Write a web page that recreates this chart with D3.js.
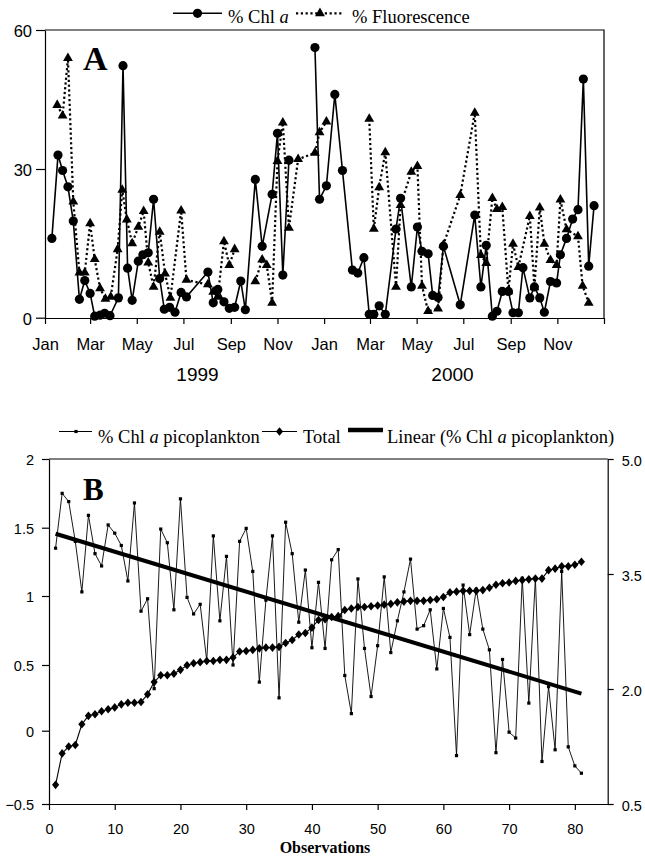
<!DOCTYPE html>
<html><head><meta charset="utf-8">
<script src="https://cdn.jsdelivr.net/npm/d3@7"></script>
<style>body{margin:0;background:#fff}</style>
</head><body>
<svg id="c" width="645" height="858"></svg>
<script>
// ---------- Panel A data ----------
const chlDates = ["1999-01-10","1999-01-18","1999-01-24","1999-01-31","1999-02-07","1999-02-15","1999-02-22","1999-03-01","1999-03-07","1999-03-14","1999-03-20","1999-03-27","1999-04-07","1999-04-13","1999-04-19","1999-04-25","1999-05-03","1999-05-09","1999-05-16","1999-05-23","1999-05-31","1999-06-06","1999-06-13","1999-06-20","1999-06-28","1999-07-05","1999-08-02","1999-08-09","1999-08-15","1999-08-23","1999-08-30","1999-09-06","1999-09-14","1999-09-20","1999-10-03","1999-10-12","1999-10-25","1999-11-01","1999-11-08","1999-11-16","1999-12-01","1999-12-20","1999-12-26","2000-01-04","2000-01-15","2000-01-25","2000-02-07","2000-02-14","2000-02-22","2000-02-29","2000-03-06","2000-03-13","2000-03-21","2000-04-04","2000-04-10","2000-04-24","2000-05-02","2000-05-08","2000-05-16","2000-05-22","2000-05-29","2000-06-05","2000-06-27","2000-07-16","2000-07-24","2000-07-31","2000-08-08","2000-08-14","2000-08-21","2000-08-29","2000-09-04","2000-09-11","2000-09-17","2000-09-26","2000-10-02","2000-10-09","2000-10-15","2000-10-23","2000-10-31","2000-11-05","2000-11-13","2000-11-21","2000-11-28","2000-12-05","2000-12-12","2000-12-19"];
const chlValues = [16.0,33.0,29.7,26.4,19.5,3.7,7.5,4.9,0.3,0.5,0.9,0.4,4.0,52.3,10.0,3.5,11.4,12.7,13.1,23.9,7.9,1.7,2.1,1.1,5.1,4.2,9.2,3.0,5.7,3.2,1.9,2.1,7.4,1.6,27.9,14.4,24.9,37.7,8.6,31.9,null,56.2,23.9,26.6,46.1,29.7,9.6,9.0,12.1,0.7,0.7,2.4,0.7,17.9,24.1,6.2,18.3,13.4,12.9,4.5,4.1,14.4,2.6,20.7,6.2,14.6,0.3,1.3,5.3,5.3,1.0,1.0,10.1,4.0,6.2,4.0,1.1,7.3,7.0,12.7,16.0,19.9,21.8,49.4,10.4,22.6];
const fluDates = ["1999-01-17","1999-01-24","1999-01-31","1999-02-07","1999-02-15","1999-02-22","1999-03-01","1999-03-07","1999-03-14","1999-03-21","1999-03-28","1999-04-06","1999-04-12","1999-04-18","1999-04-25","1999-05-03","1999-05-10","1999-05-16","1999-05-23","1999-05-31","1999-06-07","1999-06-14","1999-06-28","1999-07-05","1999-08-02","1999-08-09","1999-08-15","1999-08-23","1999-08-30","1999-09-06","1999-09-20","1999-10-03","1999-10-12","1999-10-18","1999-10-25","1999-11-01","1999-11-08","1999-11-16","1999-11-28","1999-12-20","1999-12-26","2000-01-04","2000-02-01","2000-02-29","2000-03-06","2000-03-13","2000-03-21","2000-04-04","2000-04-10","2000-04-24","2000-05-02","2000-05-08","2000-05-16","2000-05-29","2000-06-05","2000-06-27","2000-07-16","2000-07-24","2000-07-31","2000-08-08","2000-08-14","2000-08-21","2000-08-29","2000-09-04","2000-09-11","2000-09-26","2000-10-02","2000-10-09","2000-10-15","2000-10-23","2000-10-31","2000-11-05","2000-11-13","2000-11-28","2000-12-04","2000-12-12"];
const fluValues = [43.8,41.5,53.9,23.4,9.1,9.1,19.0,11.8,5.9,3.8,4.2,13.8,25.8,19.8,15.0,18.3,21.5,11.1,6.2,17.3,8.9,4.0,21.6,7.6,6.7,5.2,4.2,15.4,10.6,13.8,null,7.3,11.7,10.6,3.0,31.7,40.0,18.1,32.1,33.5,37.9,40.2,null,40.8,17.9,26.3,33.6,6.2,22.7,29.4,30.6,6.4,1.3,1.8,14.7,24.7,42.1,12.6,11.0,24.1,21.9,22.3,5.3,14.9,10.2,20.5,6.1,22.2,14.9,11.6,10.6,23.8,17.8,16.4,6.4,3.0];
const yTicksA = [0, 30, 60];
const yearLabels = ["1999", "2000"];
const legendA = ["% Chl ", "a", "% Fluorescence"];

// ---------- Panel B data ----------
const picoValues = [1.35,1.75,1.69,1.40,1.03,1.59,1.31,1.22,1.52,1.46,1.37,1.11,1.68,0.89,0.98,0.32,1.49,1.39,0.90,1.71,0.99,0.87,0.94,0.53,1.44,0.82,1.29,0.50,1.40,1.495,1.18,0.37,0.97,1.44,0.25,1.54,1.31,0.81,1.19,0.625,1.10,0.62,1.265,1.34,0.42,0.13,1.125,0.62,0.26,0.64,1.14,0.59,0.82,1.03,1.27,0.76,0.785,0.90,0.47,0.91,0.70,-0.17,1.08,0.72,1.05,0.76,0.61,-0.15,0.54,-0.01,-0.05,1.13,0.21,1.13,-0.21,0.335,-0.13,1.18,-0.11,-0.24,-0.29];
const totalValues = [0.75,1.16,1.25,1.27,1.54,1.65,1.67,1.71,1.735,1.76,1.80,1.82,1.82,1.83,1.93,2.09,2.18,2.18,2.20,2.25,2.31,2.335,2.35,2.365,2.365,2.38,2.38,2.41,2.49,2.495,2.51,2.53,2.54,2.54,2.55,2.60,2.64,2.71,2.73,2.80,2.90,2.91,2.94,2.95,3.03,3.05,3.07,3.07,3.08,3.09,3.10,3.11,3.13,3.14,3.15,3.15,3.15,3.16,3.17,3.20,3.26,3.27,3.28,3.28,3.28,3.29,3.32,3.36,3.38,3.39,3.41,3.42,3.43,3.44,3.44,3.55,3.57,3.60,3.60,3.62,3.66];
const observations = picoValues.map((d, i) => i + 1);
const xTicksB = [0,10,20,30,40,50,60,70,80];
const yTicksBLeft = [-0.5, 0, 0.5, 1, 1.5, 2];
const yTicksBRight = [0.5, 2.0, 3.5, 5.0];
const legendB = ["% Chl ", "a", " picoplankton", "Total", "Linear (% Chl ", " picoplankton)"];

const svg = d3.select("#c");
const parse = d3.timeParse("%Y-%m-%d");
const SANS = "'Liberation Sans', Arial, sans-serif";
const SERIF = "'Liberation Serif', 'Times New Roman', serif";

// ================= PANEL A =================
const xA = d3.scaleTime().domain([new Date(1999,0,1), new Date(2001,0,1)]).range([45, 604]);
const yA = d3.scaleLinear().domain([0, 30, 60]).range([317.7, 169, 30]);

const chl = chlDates.map((d, i) => ({date: parse(d), v: chlValues[i]}));
const flu = fluDates.map((d, i) => ({date: parse(d), v: fluValues[i]}));

svg.append("path").attr("d", `M45,30H604V318`).attr("fill","none").attr("stroke","#000").attr("stroke-width",1.2);

const gxA = svg.append("g").attr("transform","translate(0,318)")
  .call(d3.axisBottom(xA).ticks(d3.timeMonth.every(2)).tickSize(6).tickSizeOuter(0).tickPadding(14)
    .tickFormat(d => d.getFullYear() === 2001 ? "" : d3.timeFormat("%b")(d)));
const gyA = svg.append("g").attr("transform","translate(45,0)")
  .call(d3.axisLeft(yA).tickValues(yTicksA).tickSize(9).tickSizeOuter(0).tickPadding(4));
[gxA, gyA].forEach(g => {
  g.select(".domain").attr("stroke","#000").attr("stroke-width",1.2);
  g.selectAll(".tick line").attr("stroke","#000").attr("stroke-width",1.2);
  g.selectAll("text").attr("font-family", SANS).attr("font-size","16.5px").attr("fill","#000");
});
gyA.selectAll("text").attr("dy","0.42em");

svg.selectAll(".year").data(yearLabels).enter().append("text")
  .attr("x", (d,i) => [197.5, 452.5][i]).attr("y", 381).attr("text-anchor","middle")
  .attr("font-family", SANS).attr("font-size","19px").text(d => d);

const lineA = d3.line().defined(d => d.v !== null).x(d => xA(d.date)).y(d => yA(d.v));
svg.append("path").datum(flu).attr("d", lineA).attr("fill","none").attr("stroke","#000")
  .attr("stroke-width",2.2).attr("stroke-dasharray","2.2,2.6");
svg.append("path").datum(chl).attr("d", lineA).attr("fill","none").attr("stroke","#000").attr("stroke-width",1.6);

const tri = d3.symbol().type(d3.symbolTriangle).size(42);
svg.selectAll(".tri").data(flu.filter(d => d.v !== null)).enter().append("path")
  .attr("d", tri).attr("transform", d => `translate(${xA(d.date)},${yA(d.v)})`).attr("fill","#000");
svg.selectAll(".cir").data(chl.filter(d => d.v !== null)).enter().append("circle")
  .attr("cx", d => xA(d.date)).attr("cy", d => yA(d.v)).attr("r",4.6).attr("fill","#000");

svg.append("text").attr("x",83).attr("y",70).attr("font-family",SERIF).attr("font-weight","bold")
  .attr("font-size","34px").text("A");

// legend A
svg.append("line").attr("x1",173).attr("x2",222).attr("y1",13.3).attr("y2",13.3).attr("stroke","#000").attr("stroke-width",1.4);
svg.append("circle").attr("cx",197.5).attr("cy",13.3).attr("r",4.6);
const tA1 = svg.append("text").attr("x",228).attr("y",23).attr("font-family",SERIF).attr("font-size","18.5px");
tA1.append("tspan").text(legendA[0]);
tA1.append("tspan").attr("font-style","italic").text(legendA[1]);
svg.append("line").attr("x1",296).attr("x2",344).attr("y1",13.3).attr("y2",13.3).attr("stroke","#000")
  .attr("stroke-width",2.2).attr("stroke-dasharray","2.2,2.6");
svg.append("path").attr("d",tri).attr("transform","translate(320,13.3)");
svg.append("text").attr("x",352).attr("y",23).attr("font-family",SERIF).attr("font-size","18.5px").text(legendA[2]);

// ================= PANEL B =================
const xB = d3.scaleLinear().domain([0,85]).range([49,607.7]);
const yL = d3.scaleLinear().domain(yTicksBLeft).range([804,730.7,665,596,527.7,459]);
const yR = d3.scaleLinear().domain([0.5,5]).range([804,459]);

svg.append("path").attr("d","M49,459H607.7").attr("fill","none").attr("stroke","#000").attr("stroke-width",1.2);

const gxB = svg.append("g").attr("transform","translate(0,804)")
  .call(d3.axisBottom(xB).tickValues(xTicksB).tickSize(6).tickSizeOuter(0).tickPadding(13.5));
const gyL = svg.append("g").attr("transform","translate(49,0)")
  .call(d3.axisLeft(yL).tickValues(yTicksBLeft).tickSize(7).tickSizeOuter(0).tickPadding(8).tickFormat(d3.format("")));
const gyR = svg.append("g").attr("transform","translate(607.7,0)")
  .call(d3.axisRight(yR).tickValues(yTicksBRight).tickSize(6).tickSizeOuter(0).tickPadding(8).tickFormat(d3.format(".1f")));
[gxB, gyL, gyR].forEach(g => {
  g.select(".domain").attr("stroke","#000").attr("stroke-width",1.2);
  g.selectAll(".tick line").attr("stroke","#000").attr("stroke-width",1.2);
  g.selectAll("text").attr("font-family", SANS).attr("font-size","14.5px").attr("fill","#000");
});
gyL.selectAll("text").attr("dy","0.4em");
gyR.selectAll("text").attr("dy","0.45em");

svg.append("text").attr("x",325).attr("y",853).attr("text-anchor","middle").attr("font-family",SERIF)
  .attr("font-weight","bold").attr("font-size","16px").text("Observations");

const pico = observations.map((o,i) => ({o, v: picoValues[i]}));
const total = observations.map((o,i) => ({o, v: totalValues[i]}));

svg.append("path").datum(pico).attr("d", d3.line().x(d => xB(d.o)).y(d => yL(d.v)))
  .attr("fill","none").attr("stroke","#000").attr("stroke-width",0.9);
svg.selectAll(".sq").data(pico).enter().append("rect")
  .attr("x", d => xB(d.o)-1.6).attr("y", d => yL(d.v)-1.6).attr("width",3.2).attr("height",3.2).attr("fill","#000");

svg.append("path").datum(total).attr("d", d3.line().x(d => xB(d.o)).y(d => yR(d.v)))
  .attr("fill","none").attr("stroke","#000").attr("stroke-width",1.1);
const diamond = "M0,-4.3L3.6,0L0,4.3L-3.6,0Z";
svg.selectAll(".dia").data(total).enter().append("path").attr("d", diamond)
  .attr("transform", d => `translate(${xB(d.o)},${yR(d.v)})`).attr("fill","#000");

// linear trend (least squares) of picoplankton
const mx = d3.mean(pico, d => d.o), my = d3.mean(pico, d => d.v);
const slope = d3.sum(pico, d => (d.o-mx)*(d.v-my)) / d3.sum(pico, d => (d.o-mx)**2);
const icpt = my - slope*mx;
const trend = [1, observations.length].map(o => ({o, v: icpt + slope*o}));
svg.append("path").datum(trend).attr("d", d3.line().x(d => xB(d.o)).y(d => yL(d.v)))
  .attr("fill","none").attr("stroke","#000").attr("stroke-width",4);

svg.append("text").attr("x",83).attr("y",500).attr("font-family",SERIF).attr("font-weight","bold")
  .attr("font-size","31px").text("B");

// legend B
const LY = 431.5;
svg.append("line").attr("x1",59).attr("x2",92).attr("y1",LY).attr("y2",LY).attr("stroke","#000").attr("stroke-width",1);
svg.append("rect").attr("x",74.4).attr("y",LY-1.6).attr("width",3.2).attr("height",3.2);
const tB1 = svg.append("text").attr("x",98).attr("y",442.5).attr("font-family",SERIF).attr("font-size","18.5px");
tB1.append("tspan").text(legendB[0]);
tB1.append("tspan").attr("font-style","italic").text(legendB[1]);
tB1.append("tspan").text(legendB[2]);
svg.append("line").attr("x1",262).attr("x2",297).attr("y1",LY).attr("y2",LY).attr("stroke","#000").attr("stroke-width",1.1);
svg.append("path").attr("d",diamond).attr("transform",`translate(279.5,${LY})`);
svg.append("text").attr("x",303).attr("y",442.5).attr("font-family",SERIF).attr("font-size","18.5px").text(legendB[3]);
svg.append("line").attr("x1",348).attr("x2",383).attr("y1",430).attr("y2",430).attr("stroke","#000").attr("stroke-width",4.3);
const tB3 = svg.append("text").attr("x",387).attr("y",442.5).attr("font-family",SERIF).attr("font-size","18.5px");
tB3.append("tspan").text(legendB[4]);
tB3.append("tspan").attr("font-style","italic").text(legendB[1]);
tB3.append("tspan").text(legendB[5]);
</script>
</body></html>
